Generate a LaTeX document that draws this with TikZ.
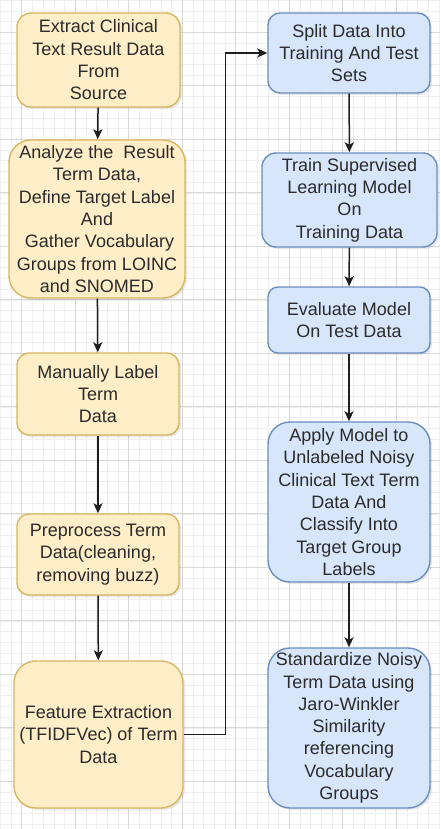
\documentclass[tikz,border=0pt]{standalone}
\usepackage{fontspec}
\setmainfont{Liberation Sans}
\usetikzlibrary{arrows.meta,shadows}

\definecolor{orangefill}{HTML}{FFEEC8}
\definecolor{orangeline}{HTML}{D9B660}
\definecolor{bluefill}{HTML}{D7E6FB}
\definecolor{blueline}{HTML}{6C8EBF}
\definecolor{textgrey}{HTML}{2B2B2B}
\definecolor{gridminor}{HTML}{EFEFEF}
\definecolor{gridmajor}{HTML}{D9D9D9}
\definecolor{linkgrey}{HTML}{1E1E1E}

\tikzset{
  procbox/.style={draw, line width=1.4pt, align=center, text=textgrey,
    inner sep=0pt, font=\fontsize{18}{22.3}\selectfont,
    drop shadow={shadow xshift=2pt, shadow yshift=-2pt, opacity=0.18}},
  orangebox/.style={procbox, fill=orangefill, draw=orangeline},
  bluebox/.style={procbox, fill=bluefill, draw=blueline},
  boxsize/.style n args={3}{minimum width=#1pt, minimum height=#2pt, rounded corners=#3pt},
  link/.style={draw=linkgrey, line width=1.5pt,
    -{Stealth[length=10pt,width=9pt,inset=2.5pt]}}
}

\begin{document}
\begin{tikzpicture}[x=1pt,y=-1pt]
  \useasboundingbox (0,0) rectangle (440,829);
  \fill[white] (0,0) rectangle (440,829);

  % background grid: minor and major lines
  \foreach \k in {0,...,41} {
    \draw[gridminor, line width=0.6pt] (0.3+10.7*\k,0) -- (0.3+10.7*\k,829);
  }
  \foreach \k in {0,...,77} {
    \draw[gridminor, line width=0.6pt] (0,0.2+10.7*\k) -- (440,0.2+10.7*\k);
  }
  \foreach \k in {0,...,8} {
    \draw[gridmajor, line width=0.8pt] (21.7+53.5*\k,0) -- (21.7+53.5*\k,829);
  }
  \foreach \k in {0,...,15} {
    \draw[gridmajor, line width=0.8pt] (0,32.3+53.5*\k) -- (440,32.3+53.5*\k);
  }

  % left column
  \node[orangebox, boxsize={163}{94}{14}] (extract) at (98.5,60)
    {Extract Clinical\\Text Result Data\\From\\Source};
  \node[orangebox, boxsize={176}{158}{22}] (analyze) at (97,219)
    {Analyze the\ \ Result\\Term Data,\\Define Target Label\\And\\\ Gather Vocabulary\\Groups from LOINC\\and SNOMED};
  \node[orangebox, boxsize={162}{82}{12}] (label) at (98,394)
    {Manually Label\\Term\\Data};
  \node[orangebox, boxsize={162}{81}{12}] (prep) at (98,554.5)
    {Preprocess Term\\Data(cleaning,\\removing buzz)};
  \node[orangebox, boxsize={169}{147}{22}] (feature) at (98.5,734.5)
    {Feature Extraction\\(TFIDFVec) of Term\\Data};

  % right column
  \node[bluebox, boxsize={162}{80}{12}] (split) at (349,53)
    {Split Data Into\\Training And Test\\Sets};
  \node[bluebox, boxsize={175}{94}{14}] (train) at (349.5,200)
    {Train Supervised\\Learning Model\\On\\Training Data};
  \node[bluebox, boxsize={162}{66}{10}] (eval) at (349,320)
    {Evaluate Model\\On Test Data};
  \node[bluebox, boxsize={162}{160}{22}] (apply) at (349,502)
    {Apply Model to\\Unlabeled Noisy\\Clinical Text Term\\Data And\\Classify Into\\Target Group\\Labels};
  \node[bluebox, boxsize={162}{160}{22}] (standard) at (349,728)
    {Standardize Noisy\\Term Data using\\Jaro-Winkler\\Similarity\\referencing\\Vocabulary\\Groups};

  % connectors
  \draw[link] (extract) -- (analyze);
  \draw[link] (analyze) -- (label);
  \draw[link] (label) -- (prep);
  \draw[link] (prep) -- (feature);
  \draw[link] (feature.east) -- ++(42,0) |- (split.west);
  \draw[link] (split) -- (train);
  \draw[link] (train) -- (eval);
  \draw[link] (eval) -- (apply);
  \draw[link] (apply) -- (standard);
\end{tikzpicture}
\end{document}
